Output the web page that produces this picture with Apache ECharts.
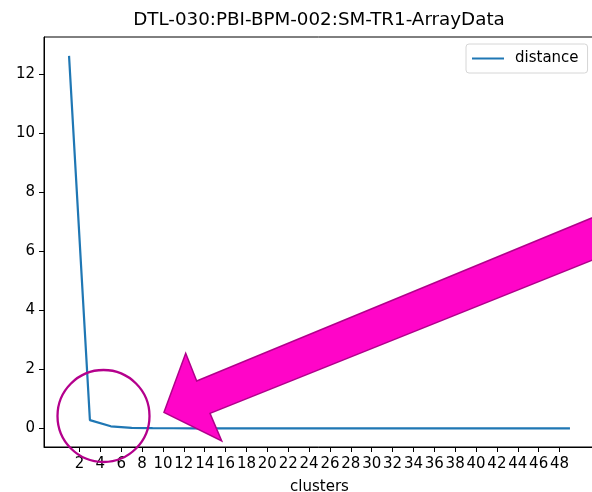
<!DOCTYPE html>
<html>
<head>
<meta charset="utf-8">
<script src="https://cdn.jsdelivr.net/npm/echarts@6/dist/echarts.min.js"></script>
<style>
  html, body { margin: 0; padding: 0; background: #fff; }
  #chart { width: 592px; height: 492px; }
</style>
</head>
<body>
<div id="chart"></div>
<script>
// Number of clusters tried and the resulting distance
const clusters = [1, 3, 5, 7, 9, 11, 13, 15, 17, 19, 21, 23, 25, 27, 29, 31, 33, 35, 37, 39, 41, 43, 45, 47, 49];
const distance = [12.63, 0.28, 0.07, 0.015, 0.005, 0.003, 0.002, 0.001, 0.001, 0.001, 0.0, 0.0, 0.0, 0.0, 0.0, 0.0, 0.0, 0.0, 0.0, 0.0, 0.0, 0.0, 0.0, 0.0, 0.0];
const xTicks = [2, 4, 6, 8, 10, 12, 14, 16, 18, 20, 22, 24, 26, 28, 30, 32, 34, 36, 38, 40, 42, 44, 46, 48];
const yTicks = [0, 2, 4, 6, 8, 10, 12];
const titleText = 'DTL-030:PBI-BPM-002:SM-TR1-ArrayData';

const font = 'DejaVu Sans';
const chart = echarts.init(document.getElementById('chart'), null, { renderer: 'canvas' });

chart.setOption({
  animation: false,
  backgroundColor: '#ffffff',
  title: {
    text: titleText,
    left: 319,
    textAlign: 'center',
    top: 11,
    padding: 0,
    textStyle: { fontFamily: font, fontSize: 18.3, fontWeight: 'normal', color: '#000' }
  },
  legend: {
    data: ['distance'],
    left: 466,
    top: 44,
    padding: [7, 9, 7, 6],
    borderColor: '#d6d6d6',
    borderWidth: 1,
    borderRadius: 3,
    icon: 'rect',
    itemWidth: 32,
    itemHeight: 2,
    itemGap: 10,
    textStyle: { fontFamily: font, fontSize: 15, color: '#000', padding: [0, 0, 0, 6] }
  },
  grid: {
    left: 44, top: 37, right: -3, bottom: 45,
    outerBoundsMode: 'none',
    containLabel: false,
    show: true, borderColor: '#000', borderWidth: 1, backgroundColor: 'transparent'
  },
  xAxis: {
    type: 'value',
    min: -1.4, max: 51.4,
    name: 'clusters',
    nameLocation: 'middle',
    nameGap: 33,
    nameTextStyle: { fontFamily: font, fontSize: 15, color: '#000' },
    axisLine: { show: true, onZero: false, lineStyle: { color: '#000', width: 1 } },
    axisTick: { show: true, inside: false, length: 5, customValues: xTicks, lineStyle: { color: '#000' } },
    axisLabel: { customValues: xTicks, margin: 10, fontFamily: font, fontSize: 15, color: '#000' },
    splitLine: { show: false }
  },
  yAxis: {
    type: 'value',
    min: -0.632, max: 13.27,
    axisLine: { show: true, onZero: false, lineStyle: { color: '#000', width: 1 } },
    axisTick: { show: true, inside: false, length: 5, customValues: yTicks, lineStyle: { color: '#000' } },
    axisLabel: { customValues: yTicks, margin: 9, fontFamily: font, fontSize: 15, color: '#000' },
    splitLine: { show: false }
  },
  series: [{
    name: 'distance',
    type: 'line',
    data: clusters.map((c, i) => [c, distance[i]]),
    showSymbol: false,
    symbol: 'none',
    color: '#1f77b4',
    lineStyle: { color: '#1f77b4', width: 2.2 },
    z: 2
  }],
  graphic: [
    {
      // pointer arrow
      type: 'polygon',
      z: 100,
      shape: {
        points: [[164, 412.3], [185.7, 353.3], [196.7, 381], [650, 194], [650, 237], [210, 413.3], [221.7, 441]]
      },
      style: { fill: '#ff05c8', stroke: '#b0008a', lineWidth: 1.5 }
    },
    {
      // ring around the elbow
      type: 'circle',
      z: 100,
      shape: { cx: 103.5, cy: 416, r: 46 },
      style: { fill: null, stroke: '#b4008c', lineWidth: 2.3 }
    }
  ]
});
</script>
</body>
</html>
